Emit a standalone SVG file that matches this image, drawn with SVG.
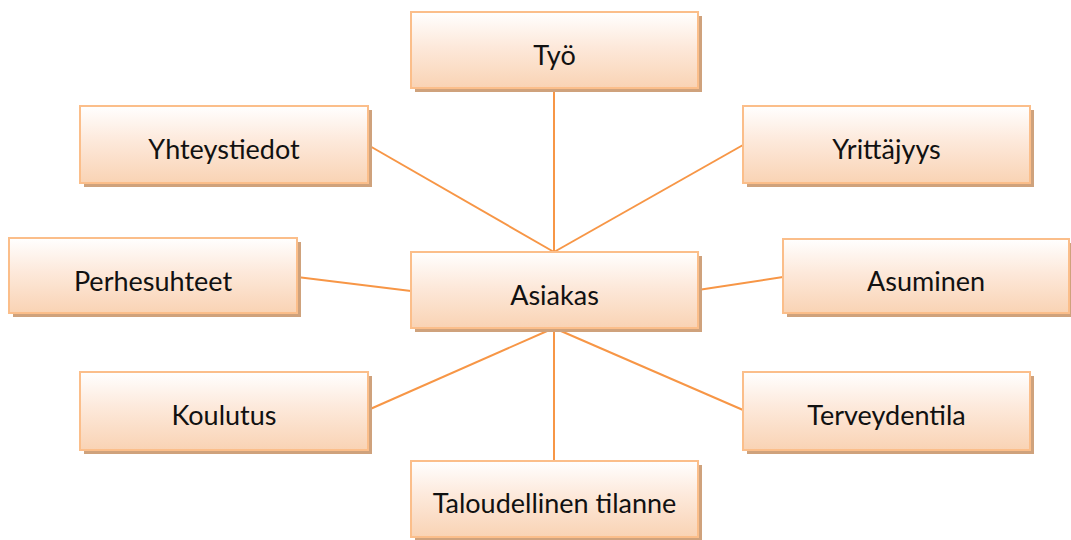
<svg xmlns="http://www.w3.org/2000/svg" width="1071" height="540" viewBox="0 0 1071 540">
  <style>
    .shadow { fill: #cfa27c; }
    .box { fill: url(#boxFill); stroke: #fbbe8a; stroke-width: 2; }
    .label { font-family: Lato, "Open Sans", sans-serif; font-size: 27px; fill: #111; text-anchor: middle; }
    .link { stroke: #f79646; stroke-width: 2; fill: none; }
  </style>
  <defs>
    <linearGradient id="boxFill" x1="0" y1="0" x2="0" y2="1">
      <stop offset="0" stop-color="#ffffff"/>
      <stop offset="0.45" stop-color="#fde9db"/>
      <stop offset="1" stop-color="#f9d3b4"/>
    </linearGradient>
  </defs>
  <rect width="1071" height="540" fill="#ffffff"/>

  <g id="connectors">
    <line class="link" x1="554" y1="88" x2="554" y2="252"/>
    <line class="link" x1="368" y1="145" x2="554" y2="252"/>
    <line class="link" x1="743" y1="145" x2="554" y2="252"/>
    <line class="link" x1="297" y1="277" x2="411" y2="291"/>
    <line class="link" x1="783" y1="277" x2="698" y2="290"/>
    <line class="link" x1="368" y1="410" x2="554" y2="328"/>
    <line class="link" x1="743" y1="410" x2="554" y2="328"/>
    <line class="link" x1="554" y1="461" x2="554" y2="328"/>
  </g>

  <g id="tyo">
    <rect class="shadow" x="415" y="16" width="287" height="76"/>
    <rect class="box" x="411" y="12" width="287" height="76"/>
    <text class="label" x="554.5" y="65">Työ</text>
  </g>
  <g id="yhteystiedot">
    <rect class="shadow" x="84" y="110" width="288" height="77"/>
    <rect class="box" x="80" y="106" width="288" height="77"/>
    <text class="label" x="224" y="159">Yhteystiedot</text>
  </g>
  <g id="yrittajyys">
    <rect class="shadow" x="747" y="110" width="287" height="77"/>
    <rect class="box" x="743" y="106" width="287" height="77"/>
    <text class="label" x="886.5" y="159">Yrittäjyys</text>
  </g>
  <g id="perhesuhteet">
    <rect class="shadow" x="13" y="242" width="288" height="75"/>
    <rect class="box" x="9" y="238" width="288" height="75"/>
    <text class="label" x="153" y="291">Perhesuhteet</text>
  </g>
  <g id="asiakas">
    <rect class="shadow" x="415" y="256" width="287" height="76"/>
    <rect class="box" x="411" y="252" width="287" height="76"/>
    <text class="label" x="554.5" y="305">Asiakas</text>
  </g>
  <g id="asuminen">
    <rect class="shadow" x="787" y="243" width="286" height="74"/>
    <rect class="box" x="783" y="239" width="286" height="74"/>
    <text class="label" x="926" y="291">Asuminen</text>
  </g>
  <g id="koulutus">
    <rect class="shadow" x="84" y="376" width="288" height="78"/>
    <rect class="box" x="80" y="372" width="288" height="78"/>
    <text class="label" x="224" y="425">Koulutus</text>
  </g>
  <g id="terveydentila">
    <rect class="shadow" x="747" y="376" width="287" height="78"/>
    <rect class="box" x="743" y="372" width="287" height="78"/>
    <text class="label" x="886.5" y="425">Terveydentila</text>
  </g>
  <g id="taloudellinen-tilanne">
    <rect class="shadow" x="415" y="465" width="287" height="76"/>
    <rect class="box" x="411" y="461" width="287" height="76"/>
    <text class="label" x="554.5" y="513">Taloudellinen tilanne</text>
  </g>
</svg>
